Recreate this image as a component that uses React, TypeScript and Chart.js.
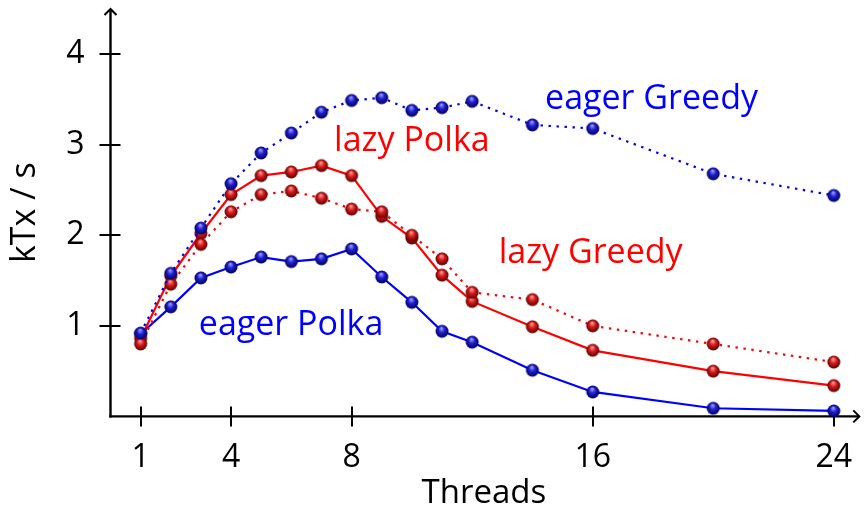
import React, { useEffect, useRef } from 'react';
import { Chart, registerables } from 'chart.js';

Chart.register(...registerables);

// ---- data ----
const threads = [1, 2, 3, 4, 5, 6, 7, 8, 9, 10, 11, 12, 14, 16, 20, 24];
const eagerGreedy = [0.92, 1.58, 2.08, 2.57, 2.91, 3.13, 3.36, 3.49, 3.52, 3.38, 3.41, 3.48, 3.22, 3.18, 2.68, 2.44];
const lazyPolka = [0.86, 1.55, 2.02, 2.45, 2.66, 2.70, 2.77, 2.66, 2.21, 1.97, 1.56, 1.27, 0.99, 0.73, 0.50, 0.34];
const lazyGreedy = [0.80, 1.46, 1.90, 2.26, 2.45, 2.49, 2.41, 2.29, 2.26, 2.00, 1.74, 1.37, 1.29, 1.00, 0.80, 0.60];
const eagerPolka = [0.91, 1.21, 1.53, 1.65, 1.76, 1.71, 1.74, 1.85, 1.54, 1.26, 0.94, 0.82, 0.51, 0.27, 0.09, 0.06];
const xTicks = [1, 4, 8, 16, 24];
const yTicks = [1, 2, 3, 4];
const seriesNames = ['eager Greedy', 'lazy Polka', 'lazy Greedy', 'eager Polka'];
// label anchors (data coordinates: left edge / baseline)
const labelX = [14.42, 7.42, 12.88, 2.93];
const labelY = [3.40, 2.93, 1.69, 0.90];

const BLUE = '#0000ff';
const RED = '#ff0000';
const FONT = "'Open Sans', 'DejaVu Sans', sans-serif";

function sphere(light: string, base: string, dark: string, r = 6.5) {
  const size = 16;
  const c = document.createElement('canvas');
  c.width = size;
  c.height = size;
  const ctx = c.getContext('2d')!;
  const cx = size / 2, cy = size / 2;
  const g = ctx.createRadialGradient(cx - r * 0.1, cy - r * 0.5, r * 0.05, cx, cy, r);
  g.addColorStop(0, light);
  g.addColorStop(0.45, base);
  g.addColorStop(1, dark);
  ctx.fillStyle = g;
  ctx.beginPath();
  ctx.arc(cx, cy, r, 0, Math.PI * 2);
  ctx.fill();
  return c;
}

const axesPlugin = {
  id: 'customAxes',
  beforeDatasetsDraw(chart: any) {
    const { ctx, chartArea, scales } = chart;
    const { left, right, top, bottom } = chartArea;
    const x = scales.x, y = scales.y;
    ctx.save();
    ctx.strokeStyle = '#000';
    ctx.lineCap = 'butt';
    ctx.lineWidth = 2.4;
    ctx.beginPath();
    ctx.moveTo(left, bottom + 1.2);
    ctx.lineTo(left, top);
    ctx.stroke();
    ctx.beginPath();
    ctx.moveTo(left - 1.2, bottom);
    ctx.lineTo(right + 2, bottom);
    ctx.stroke();
    ctx.lineWidth = 2;
    ctx.beginPath();
    ctx.moveTo(left - 6, top + 6);
    ctx.lineTo(left, top);
    ctx.lineTo(left + 6, top + 6);
    ctx.stroke();
    ctx.beginPath();
    ctx.moveTo(right - 4, bottom - 6);
    ctx.lineTo(right + 2, bottom);
    ctx.lineTo(right - 4, bottom + 6);
    ctx.stroke();
    ctx.lineWidth = 2;
    for (const v of yTicks) {
      const py = Math.round(y.getPixelForValue(v));
      ctx.beginPath();
      ctx.moveTo(left - 11, py);
      ctx.lineTo(left + 10, py);
      ctx.stroke();
    }
    for (const v of xTicks) {
      const px = Math.round(x.getPixelForValue(v));
      ctx.beginPath();
      ctx.moveTo(px, bottom - 10);
      ctx.lineTo(px, bottom + 10);
      ctx.stroke();
    }
    ctx.restore();
  },
  afterDatasetsDraw(chart: any) {
    const { ctx, scales } = chart;
    const colors = [BLUE, RED, RED, BLUE];
    ctx.save();
    ctx.font = `34px ${FONT}`;
    ctx.textAlign = 'left';
    ctx.textBaseline = 'alphabetic';
    seriesNames.forEach((name, i) => {
      ctx.fillStyle = colors[i];
      ctx.fillText(name, scales.x.getPixelForValue(labelX[i]), scales.y.getPixelForValue(labelY[i]));
    });
    ctx.restore();
  },
};

export default function App() {
  const ref = useRef<HTMLCanvasElement | null>(null);
  useEffect(() => {
    if (!ref.current) return;
    const blueBall = sphere('#a0a0ff', '#2020d0', '#00005a');
    const redBall = sphere('#ffa0a0', '#d81c1c', '#5a0000');
    const mk = (label: string, data: number[], color: string, ball: any, dashed: boolean) => ({
      label,
      data: threads.map((t, i) => ({ x: t, y: data[i] })),
      borderColor: color,
      borderWidth: 2.2,
      borderDash: dashed ? [2.4, 5.6] : [],
      pointStyle: ball,
      pointRadius: 6.5,
      pointHoverRadius: 6.5,
      fill: false,
      tension: 0,
      clip: false as any,
    });
    const chart = new Chart(ref.current, {
      type: 'line',
      data: {
        datasets: [
          mk('eager Greedy', eagerGreedy, BLUE, blueBall, true),
          mk('lazy Greedy', lazyGreedy, RED, redBall, true),
          mk('lazy Polka', lazyPolka, RED, redBall, false),
          mk('eager Polka', eagerPolka, BLUE, blueBall, false),
        ],
      },
      options: {
        animation: false,
        responsive: false,
        events: [],
        layout: { padding: { top: 9, right: 6, bottom: 0, left: 0 } },
        plugins: { legend: { display: false }, tooltip: { enabled: false } },
        scales: {
          x: {
            type: 'linear',
            min: 0,
            max: 24.78,
            grid: { display: false, drawTicks: false },
            border: { display: false },
            afterBuildTicks: (a: any) => { a.ticks = xTicks.map((v) => ({ value: v })); },
            afterFit: (s: any) => { s.height = 91.6; s.paddingLeft = 0; s.paddingRight = 0; },
            ticks: { font: { family: FONT, size: 32 }, color: '#000', padding: 22, maxRotation: 0, autoSkip: false },
            title: { display: true, text: 'Threads', font: { family: FONT, size: 33, lineHeight: 1 }, color: '#000', padding: { top: 0, bottom: -2 } },
          },
          y: {
            type: 'linear',
            min: 0,
            max: 4.5,
            grid: { display: false, drawTicks: false },
            border: { display: false },
            afterBuildTicks: (a: any) => { a.ticks = yTicks.map((v) => ({ value: v })); },
            afterFit: (s: any) => { s.width = 110.5; s.paddingTop = 0; s.paddingBottom = 0; },
            ticks: { font: { family: FONT, size: 32 }, color: '#000', padding: 26, autoSkip: false },
            title: { display: true, text: 'kTx / s', font: { family: FONT, size: 34, lineHeight: 1.2 }, color: '#000', padding: { top: 5, bottom: 0 } },
          },
        },
      } as any,
      plugins: [axesPlugin],
    });
    return () => chart.destroy();
  }, []);
  return (
    <div style={{ position: 'absolute', left: 0, top: 0, width: 866, height: 508 }}>
      <canvas ref={ref} width={866} height={508} />
    </div>
  );
}
